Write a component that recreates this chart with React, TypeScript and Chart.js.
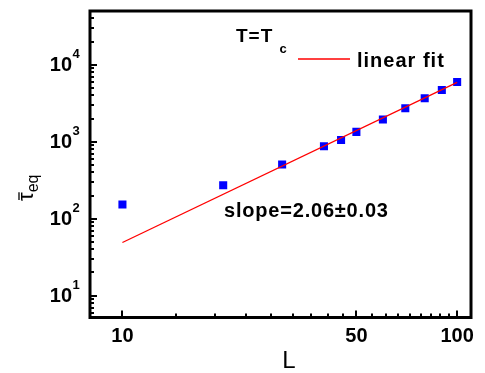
import React, { useEffect, useRef } from "react";
import { Chart, registerables } from "chart.js";

Chart.register(...registerables);

// Data
const sizesL = [10, 20, 30, 40, 45, 50, 60, 70, 80, 90, 100];
const tauEq = [153, 272, 505, 873, 1055, 1343, 1945, 2723, 3673, 4710, 5985];
const fitL = [10, 100];
const fitTau = [49, 5900];

// Axis ticks
const xMajorTicks = [10, 50, 100];
const yMajorExponents = [1, 2, 3, 4];
const xRange = [8, 110];
const yRange = [5.2, 50000];

const FONT = '"Liberation Sans", Arial, Helvetica, sans-serif';

const decorPlugin = {
  id: "decor",
  afterDraw(chart: any) {
    const ctx = chart.ctx as CanvasRenderingContext2D;
    const { left, right, top, bottom } = chart.chartArea;
    const xs = chart.scales.x;
    const ys = chart.scales.y;
    ctx.save();
    ctx.strokeStyle = "#000";
    ctx.fillStyle = "#000";

    // x ticks (major + 8 linear minors between majors)
    ctx.lineWidth = 2;
    const xMinor: number[] = [];
    for (let i = 0; i < xMajorTicks.length - 1; i++) {
      const a = xMajorTicks[i];
      const b = xMajorTicks[i + 1];
      for (let k = 1; k < 9; k++) xMinor.push(a + ((b - a) * k) / 9);
    }
    ctx.beginPath();
    for (const v of xMajorTicks) {
      const px = Math.round(xs.getPixelForValue(v));
      ctx.moveTo(px, bottom);
      ctx.lineTo(px, bottom - 7);
    }
    for (const v of xMinor) {
      const px = Math.round(xs.getPixelForValue(v));
      ctx.moveTo(px, bottom);
      ctx.lineTo(px, bottom - 4);
    }
    // y ticks
    for (let e = 0; e <= 5; e++) {
      for (let m = 1; m <= 9; m++) {
        const v = m * Math.pow(10, e);
        if (v < yRange[0] || v > yRange[1]) continue;
        const py = Math.round(ys.getPixelForValue(v));
        ctx.moveTo(left, py);
        ctx.lineTo(left + (m === 1 ? 7 : 4), py);
      }
    }
    ctx.stroke();

    // frame
    ctx.lineWidth = 3;
    ctx.strokeRect(left, top, right - left, bottom - top);

    // x tick labels
    ctx.font = `bold 20px ${FONT}`;
    ctx.textAlign = "center";
    ctx.textBaseline = "alphabetic";
    for (const v of xMajorTicks) {
      ctx.fillText(String(v), xs.getPixelForValue(v), 342);
    }
    // y tick labels 10^n
    for (const e of yMajorExponents) {
      const py = ys.getPixelForValue(Math.pow(10, e));
      ctx.font = `bold 20px ${FONT}`;
      ctx.textAlign = "right";
      ctx.fillText("10", 72, py + 6);
      ctx.font = `bold 13px ${FONT}`;
      ctx.textAlign = "left";
      ctx.fillText(String(e), 72.5, py - 7);
    }

    // x title
    ctx.font = `24px ${FONT}`;
    ctx.textAlign = "center";
    ctx.fillText("L", 289, 368);

    // y title: tau-bar with subscript eq
    ctx.save();
    ctx.translate(33, 201);
    ctx.rotate(-Math.PI / 2);
    ctx.textAlign = "left";
    ctx.font = `22px ${FONT}`;
    ctx.fillText("τ", 0, 0);
    const tw = ctx.measureText("τ").width;
    ctx.lineWidth = 1.3;
    ctx.beginPath();
    ctx.moveTo(1, -14);
    ctx.lineTo(tw, -14);
    ctx.stroke();
    ctx.font = `16px ${FONT}`;
    ctx.fillText("eq", tw, 5);
    ctx.restore();

    // annotations
    (ctx as any).letterSpacing = "1px";
    ctx.textAlign = "left";
    ctx.font = `bold 19px ${FONT}`;
    ctx.fillText("T=T", 236, 42);
    (ctx as any).letterSpacing = "0px";
    ctx.font = `bold 13px ${FONT}`;
    ctx.fillText("c", 279.5, 53);

    // legend
    ctx.strokeStyle = "#ff0000";
    ctx.lineWidth = 1.3;
    ctx.beginPath();
    ctx.moveTo(298, 59);
    ctx.lineTo(350, 59);
    ctx.stroke();
    (ctx as any).letterSpacing = "1px";
    ctx.font = `bold 20px ${FONT}`;
    ctx.fillText("linear fit", 357, 66.5);

    (ctx as any).letterSpacing = "0.8px";
    ctx.font = `bold 20px ${FONT}`;
    ctx.fillText("slope=2.06±0.03", 224, 216.5);
    (ctx as any).letterSpacing = "0px";
    ctx.restore();
  },
};

export default function App() {
  const ref = useRef<HTMLCanvasElement | null>(null);
  useEffect(() => {
    if (!ref.current) return;
    const chart = new Chart(ref.current, {
      type: "scatter",
      data: {
        datasets: [
          {
            type: "line",
            label: "linear fit",
            data: fitL.map((x, i) => ({ x, y: fitTau[i] })),
            borderColor: "#ff0000",
            borderWidth: 1.3,
            pointRadius: 0,
            fill: false,
          },
          {
            type: "scatter",
            label: "data",
            data: sizesL.map((x, i) => ({ x, y: tauEq[i] })),
            pointStyle: "rect",
            pointRadius: 5.7,
            backgroundColor: "#0000ff",
            borderColor: "#0000ff",
            borderWidth: 0,
          },
        ],
      },
      options: {
        animation: false,
        responsive: false,
        layout: { padding: { left: 90, right: 14, top: 11, bottom: 55.5 } },
        plugins: { legend: { display: false }, tooltip: { enabled: false } },
        scales: {
          x: { type: "logarithmic", min: xRange[0], max: xRange[1], display: false },
          y: { type: "logarithmic", min: yRange[0], max: yRange[1], display: false },
        },
      },
      plugins: [decorPlugin],
    } as any);
    return () => chart.destroy();
  }, []);
  return (
    <div style={{ position: "absolute", left: 0, top: 0, width: 485, height: 373, background: "#fff" }}>
      <canvas ref={ref} width={485} height={373} style={{ width: 485, height: 373 }} />
    </div>
  );
}
